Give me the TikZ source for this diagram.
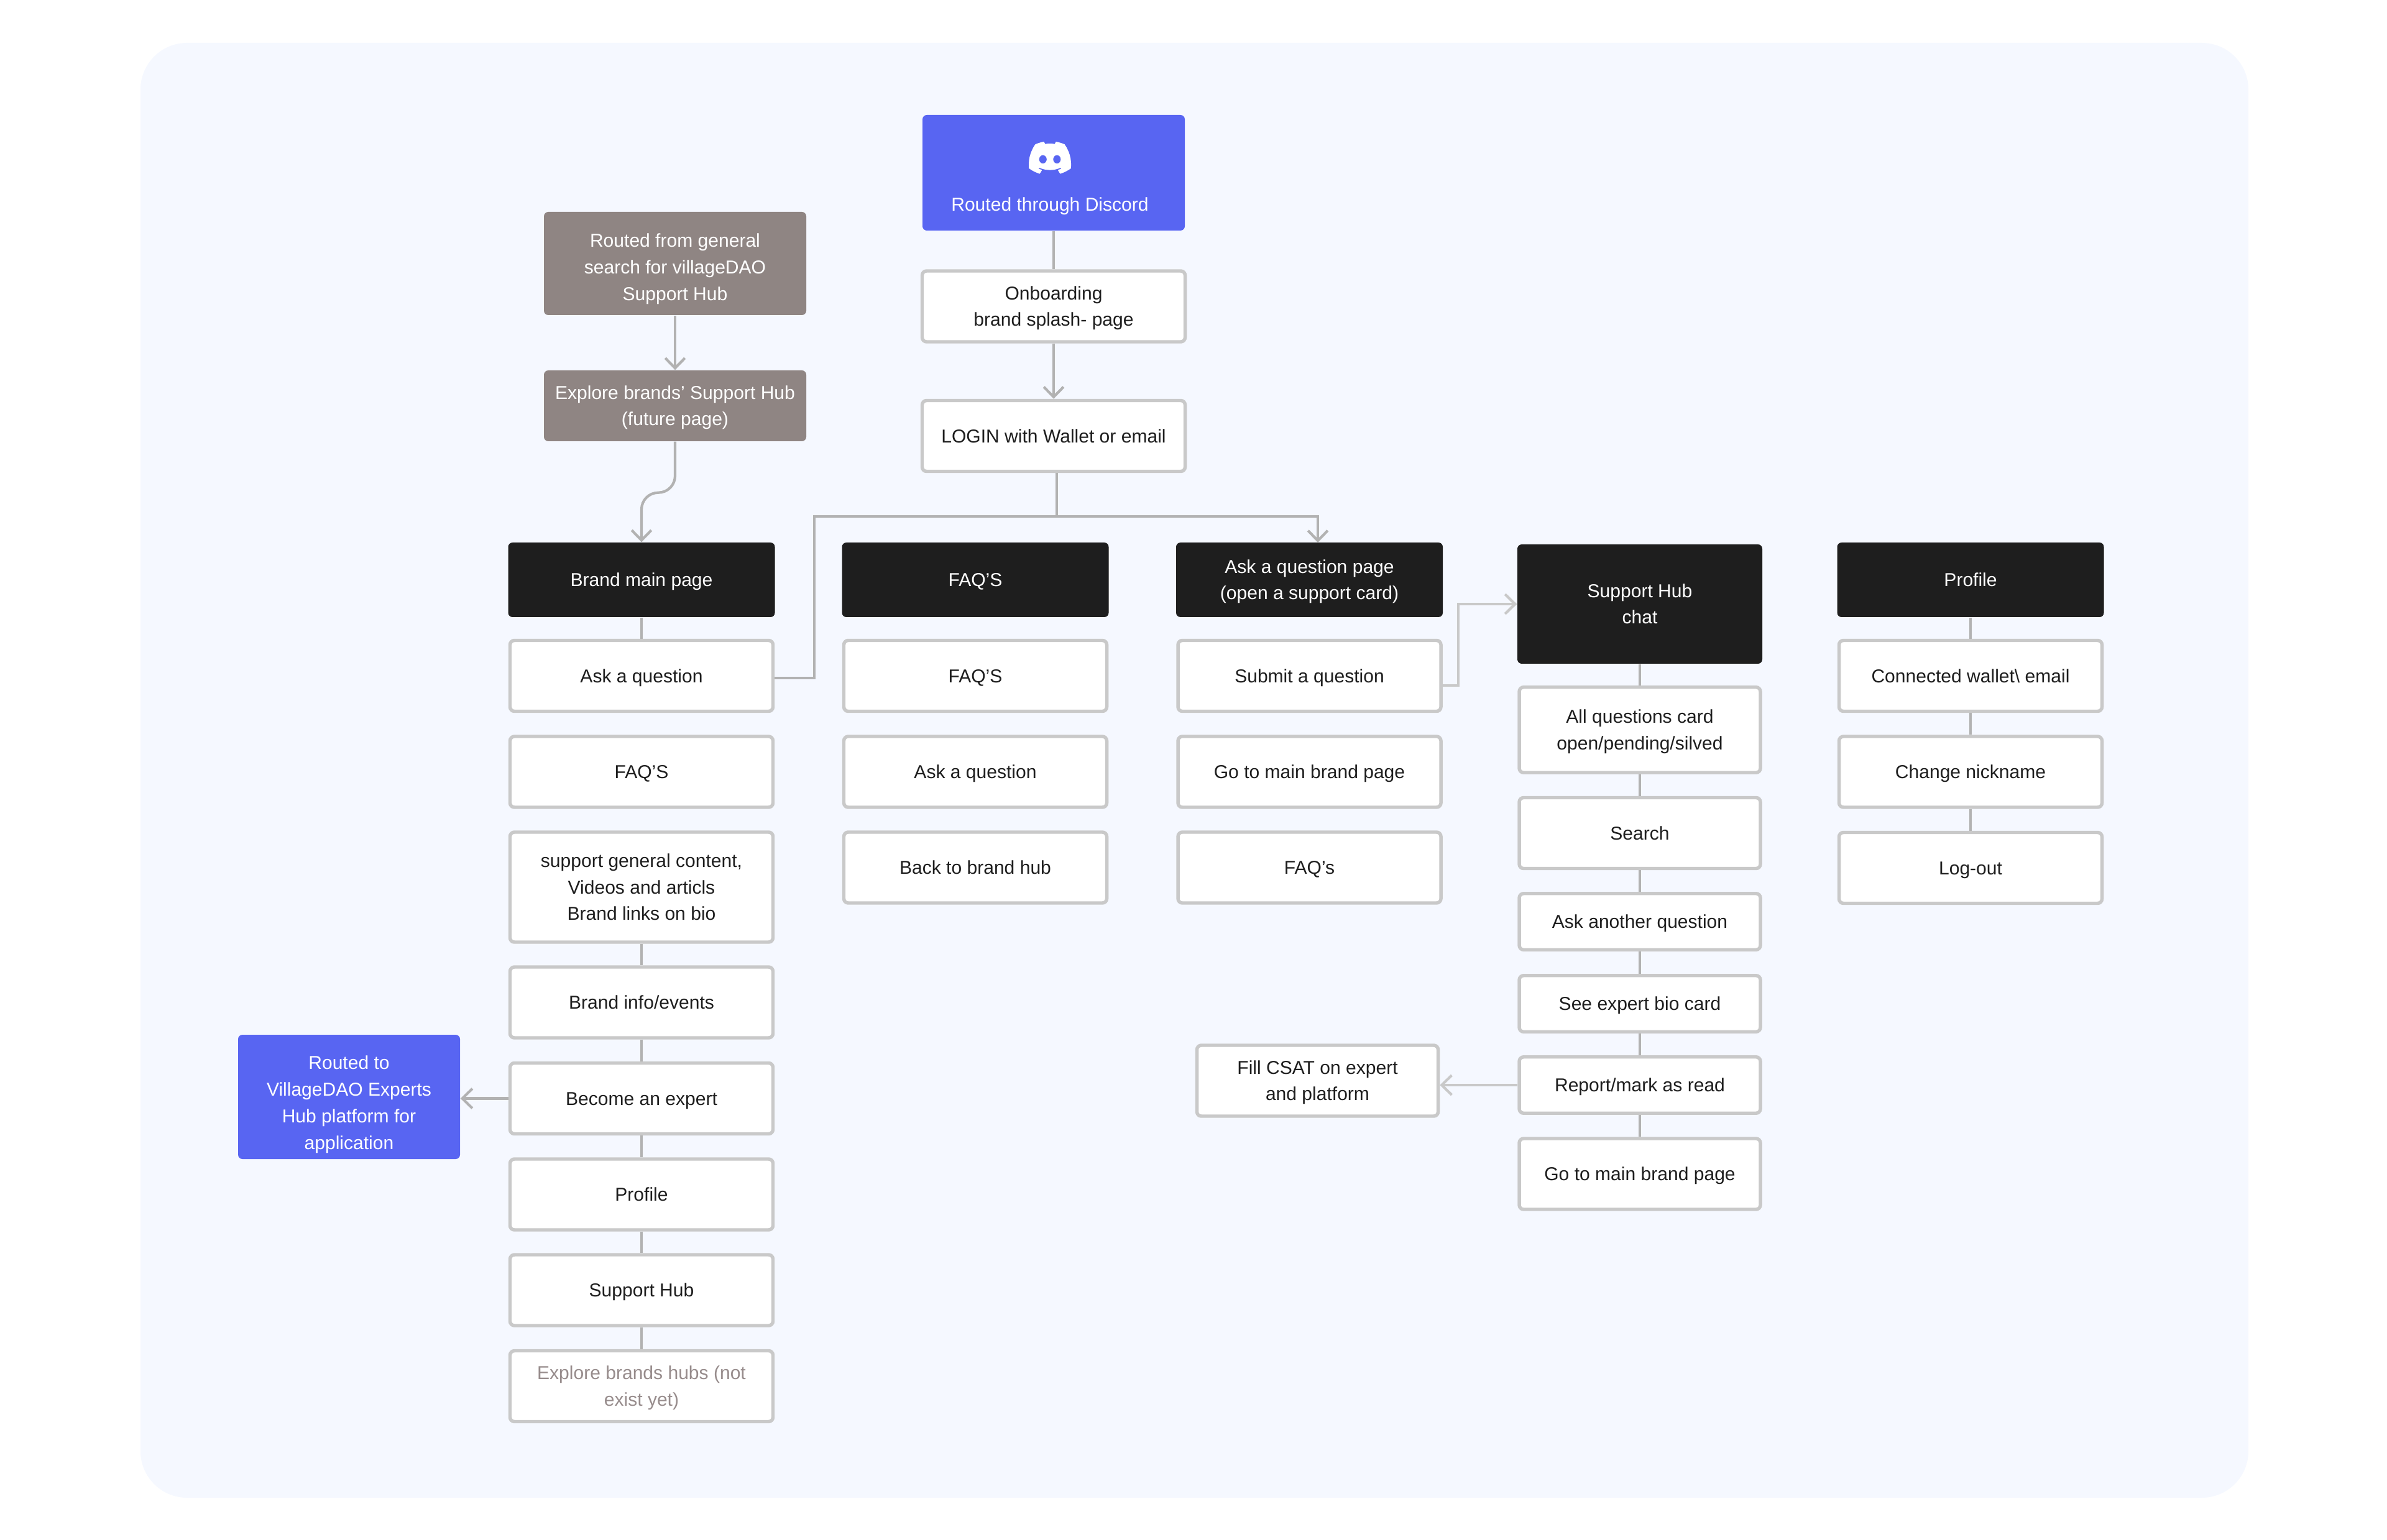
\documentclass[tikz,border=0pt]{standalone}
\usepackage{fontspec}
\setmainfont{Liberation Sans}
\usetikzlibrary{arrows.meta}
\definecolor{panelbg}{HTML}{F5F8FF}
\definecolor{cardline}{HTML}{C9C9C9}
\definecolor{linkgrey}{HTML}{B2B2B2}
\definecolor{inkdark}{HTML}{1E1E1E}
\definecolor{discordblue}{HTML}{5865F2}
\definecolor{routegrey}{HTML}{8F8583}
\definecolor{mutedtext}{HTML}{978C8C}
\newcommand{\cardstrut}{\rule[-3.1pt]{0pt}{12.2pt}}
\newcommand{\topstrut}{\rule{0pt}{9.1pt}}
\tikzset{
  boxsize/.style 2 args={minimum width=#1cm,minimum height=#2cm},
  basebox/.style={align=center,inner sep=0pt,rounded corners=2pt,
    font=\fontsize{8.55}{12.2}\selectfont,
    execute at begin node=\cardstrut,execute at end node=\cardstrut},
  card/.style={basebox,draw=cardline,fill=white,line width=1.55pt,text=inkdark,boxsize={4.23}{1.14}},
  headcard/.style={basebox,fill=inkdark,text=white,boxsize={4.29}{1.2}},
  bluecard/.style={basebox,fill=discordblue,text=white},
  greycard/.style={basebox,fill=routegrey,text=white,boxsize={4.22}{1.14}},
  link/.style={draw=linkgrey,line width=1.2pt},
  linkarrow/.style={link,-{Straight Barb[length=4.6pt,width=9pt,line width=1.2pt]}},
  lightarrow/.style={linkarrow,draw=cardline}
}
\begin{document}
\begin{tikzpicture}
\useasboundingbox (0,0) rectangle (38.4,-24.78);
\fill[panelbg,rounded corners=.75cm] (2.26,-.69) rectangle (36.17,-24.1);

\node[bluecard,boxsize={4.22}{1.86}] (discord) at (16.95,-2.78) {};
\node[bluecard,fill=none,minimum width=0pt,minimum height=0pt] (discordlabel) at (16.89,-3.29) {Routed through Discord};
\begin{scope}[shift={(16.55,-2.28)},x=.00535cm,y=-.00535cm]
\fill[white,even odd rule] (107.7,8.07) .. controls (99.4,4.3) and (90.6,1.6) .. (81.47,0)
  .. controls (80.2,2.2) and (79,4.5) .. (78.11,6.83)
  .. controls (68.4,5.4) and (58.7,5.4) .. (49,6.83)
  .. controls (48,4.5) and (46.9,2.2) .. (45.64,0)
  .. controls (36.5,1.6) and (27.7,4.3) .. (19.39,8.09)
  .. controls (2.79,32.65) and (-1.71,56.6) .. (.54,80.21)
  .. controls (10.1,87.2) and (21.2,92.8) .. (32.71,96.36)
  .. controls (35.3,92.9) and (37.6,89.2) .. (39.6,85.25)
  .. controls (35.8,83.8) and (32.2,82.1) .. (28.75,80.07)
  .. controls (29.66,79.41) and (30.55,78.73) .. (31.41,78.07)
  .. controls (51.7,87.6) and (75.4,87.6) .. (95.73,78.07)
  .. controls (96.6,78.78) and (97.49,79.46) .. (98.39,80.07)
  .. controls (95,82.1) and (91.3,83.8) .. (87.52,85.26)
  .. controls (89.5,89.2) and (91.8,92.9) .. (94.41,96.36)
  .. controls (105.9,92.8) and (117,87.2) .. (126.6,80.22)
  .. controls (129.24,52.84) and (122.09,29.11) .. (107.7,8.07) -- cycle
  (42.45,53) ellipse [x radius=11.4,y radius=12.7]
  (84.69,53) ellipse [x radius=11.4,y radius=12.7];
\end{scope}
\node[card] (onboard) at (16.95,-4.93) {\topstrut Onboarding\\brand splash- page};
\node[card] (login) at (16.95,-7.015) {LOGIN with Wallet or email};

\node[greycard,boxsize={4.22}{1.66}] (routed) at (10.86,-4.24) {\rule{0pt}{12.5pt}Routed from general\\search for villageDAO\\Support Hub};
\node[greycard] (explore) at (10.86,-6.53) {\topstrut Explore brands’ Support Hub\\(future page)};

\node[headcard] (brand) at (10.32,-9.33) {Brand main page};
\node[card] (askq) at (10.32,-10.875) {Ask a question};
\node[card] (faqa) at (10.32,-12.42) {FAQ’S};
\node[card,boxsize={4.23}{1.77}] (general) at (10.32,-14.275) {\topstrut support general content,\\Videos and articls\\Brand links on bio};
\node[card] (info) at (10.32,-16.13) {Brand info/events};
\node[card] (become) at (10.32,-17.675) {Become an expert};
\node[card] (profilea) at (10.32,-19.22) {Profile};
\node[card] (hub) at (10.32,-20.76) {Support Hub};
\node[card,text=mutedtext] (explorehubs) at (10.32,-22.305) {\topstrut Explore brands hubs (not\\exist yet)};
\node[bluecard,boxsize={3.57}{2}] (expertshub) at (5.615,-17.65) {\rule{0pt}{14.5pt}Routed to\\VillageDAO Experts\\Hub platform for\\application};

\node[headcard] (faqpage) at (15.69,-9.33) {FAQ’S};
\node[card] (faqb) at (15.69,-10.875) {FAQ’S};
\node[card] (askb) at (15.69,-12.42) {Ask a question};
\node[card] (backhub) at (15.69,-13.96) {Back to brand hub};

\node[headcard] (askpage) at (21.065,-9.33) {\topstrut Ask a question page\\(open a support card)};
\node[card] (submit) at (21.065,-10.875) {Submit a question};
\node[card] (gomainb) at (21.065,-12.42) {Go to main brand page};
\node[card] (faqc) at (21.065,-13.96) {FAQ’s};

\node[headcard,boxsize={3.94}{1.92}] (chat) at (26.38,-9.72) {\topstrut Support Hub\\chat};
\node[card,boxsize={3.88}{1.375}] (allq) at (26.38,-11.745) {\topstrut All questions card\\open/pending/silved};
\node[card,boxsize={3.88}{1.14}] (search) at (26.38,-13.405) {Search};
\node[card,boxsize={3.88}{.905}] (another) at (26.38,-14.83) {Ask another question};
\node[card,boxsize={3.88}{.905}] (bio) at (26.38,-16.15) {See expert bio card};
\node[card,boxsize={3.88}{.905}] (report) at (26.38,-17.46) {Report/mark as read};
\node[card,boxsize={3.88}{1.14}] (gomainc) at (26.38,-18.89) {Go to main brand page};
\node[card,boxsize={3.88}{1.14}] (csat) at (21.195,-17.39) {\topstrut Fill CSAT on expert\\and platform};

\node[headcard] (profilepage) at (31.7,-9.33) {Profile};
\node[card] (wallet) at (31.7,-10.875) {Connected wallet\textbackslash{} email};
\node[card] (nickname) at (31.7,-12.42) {Change nickname};
\node[card] (logout) at (31.7,-13.965) {Log-out};

\coordinate (split) at (17,-8.31);
\coordinate (leftbend) at (13.1,-8.31);
\coordinate (asktarget) at (21.2,-8.73);
\coordinate (askout) at (12.46,-10.91);
\coordinate (submitout) at (23.2,-11.03);
\coordinate (submitbend) at (23.46,-11.03);

\foreach \a/\b in {discord/onboard,brand/askq,general/info,info/become,become/profilea,profilea/hub,hub/explorehubs,
  chat/allq,allq/search,search/another,another/bio,bio/report,report/gomainc,
  profilepage/wallet,wallet/nickname,nickname/logout}
  \draw[link] (\a.south) -- (\b.north);

\draw[linkarrow] (onboard.south) -- (login.north);
\draw[linkarrow] (routed.south) -- (explore.north);
\draw[linkarrow] (explore.south) -- ++(0,-.55) to[out=-90,in=0] ++(-.27,-.27) to[out=180,in=90] ++(-.27,-.27) -- (brand.north);
\draw[link] (login.south -| split) -- (split);
\draw[linkarrow] (askout) -| (leftbend) -| (asktarget);
\draw[lightarrow] (submitout) -- (submitbend) |- (chat.west);
\draw[linkarrow] (become.west) -- (expertshub.east |- become.west);
\draw[lightarrow] (report.west) -- (csat.east |- report.west);
\end{tikzpicture}
\end{document}
